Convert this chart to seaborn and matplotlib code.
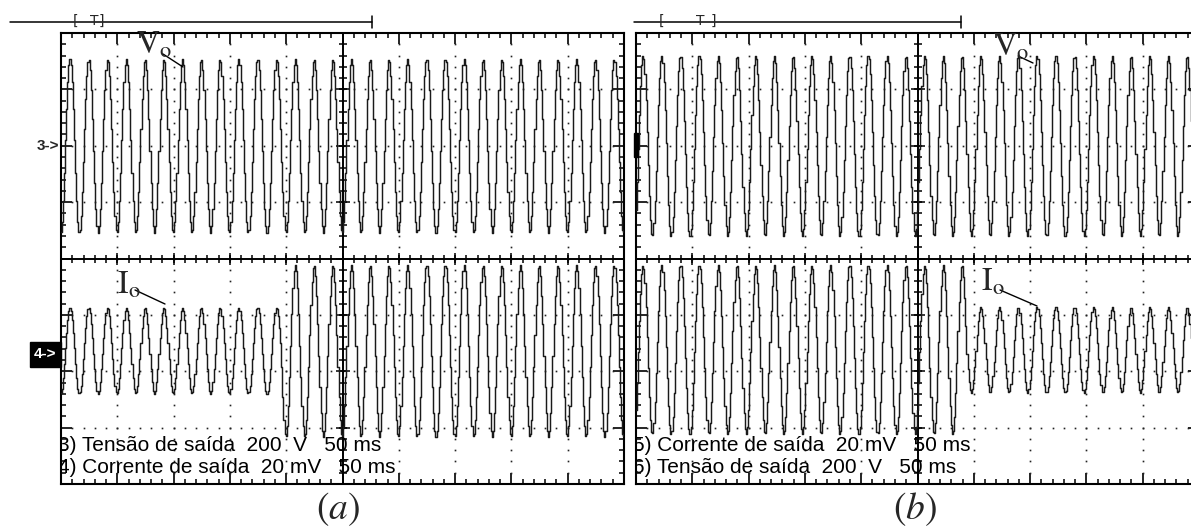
import numpy as np
import pandas as pd
import matplotlib
matplotlib.use("Agg")
import matplotlib.pyplot as plt
import seaborn as sns
from matplotlib.patches import Rectangle

sns.set_theme(style="white")
plt.rcParams['font.family'] = ['Liberation Sans', 'DejaVu Sans']

# ---------------- data (screen divisions: 10 horizontal x 8 vertical) ----------------
panel_names = ["(a)", "(b)"]
cycles_per_div = [3.0, 3.0]            # 60 Hz at 50 ms/div
first_peak_div = [0.16, 0.125]
vo_center_div = [6.0, 6.0]
vo_amp_div = [1.54, 1.60]
io_center_div = [2.36, 2.38]
io_amp_before_div = [0.76, 1.50]
io_amp_after_div = [1.52, 0.76]
io_step_div = [3.91, 5.875]
legend_lines = [["3) Tensão de saída  200  V   50 ms", "4) Corrente de saída  20 mV   50 ms"],
                ["5) Corrente de saída  20 mV   50 ms", "6) Tensão de saída  200  V   50 ms"]]
sample_step_div = 0.02

W, H = 1191, 532
fig = plt.figure(figsize=(W / 100, H / 100), dpi=100, facecolor="white")

panel_left_px = [61, 636]
TRACE = "#1a1a1a"

for i in range(2):
    ax = fig.add_axes([panel_left_px[i] / W, 48 / H, 563 / W, 451 / H])
    ax.set_facecolor("white")
    t = np.arange(0, 10 + 1e-9, sample_step_div)
    ph = 2 * np.pi * cycles_per_div[i] * (t - first_peak_div[i])
    vo = vo_center_div[i] + vo_amp_div[i] * np.cos(ph)
    amp = np.where(t < io_step_div[i], io_amp_before_div[i], io_amp_after_div[i])
    io = io_center_div[i] + amp * np.cos(ph)
    df = pd.DataFrame({"t": np.concatenate([t, t]),
                       "v": np.concatenate([vo, io]),
                       "ch": ["Vo"] * len(t) + ["Io"] * len(t)})
    sns.lineplot(data=df, x="t", y="v", units="ch", estimator=None, sort=False,
                 color=TRACE, lw=1.05, drawstyle="steps-mid", ax=ax, zorder=3)

    # dotted graticule
    minor = np.arange(0.2, 10, 0.2)
    minor_y = np.arange(0.2, 8, 0.2)
    for gx in [1, 2, 3, 4, 6, 7, 8, 9]:
        ax.plot(np.full_like(minor_y, gx), minor_y, ls="none", marker="s", ms=1.2,
                mew=0, color="#222222", zorder=2)
    for gy in [1, 2, 3, 5, 6, 7]:
        ax.plot(minor, np.full_like(minor, gy), ls="none", marker="s", ms=1.2,
                mew=0, color="#222222", zorder=2)
    # centre cross
    ax.axvline(5, color="black", lw=1.4, zorder=2)
    ax.axhline(4, color="black", lw=1.4, zorder=2)
    ax.plot(np.full_like(minor_y, 5), minor_y, ls="none", marker="_", ms=6, mew=1.1,
            color="black", zorder=2)
    ax.plot(np.full(7, 5), np.arange(1, 8), ls="none", marker="_", ms=10, mew=1.1,
            color="black", zorder=2)
    ax.plot(minor, np.full_like(minor, 4), ls="none", marker="|", ms=6, mew=1.1,
            color="black", zorder=2)
    ax.plot(np.arange(1, 10), np.full(9, 4), ls="none", marker="|", ms=9, mew=1.1,
            color="black", zorder=2)

    ax.set_xlim(0, 10)
    ax.set_ylim(0, 8)
    ax.set_xticks(range(11))
    ax.set_yticks(range(9))
    ax.set_xticks(np.arange(0, 10.01, 0.2), minor=True)
    ax.set_yticks(np.arange(0, 8.01, 0.2), minor=True)
    ax.tick_params(which="both", direction="in", top=True, right=True, bottom=True, left=True,
                   labelbottom=False, labelleft=False, color="black")
    ax.tick_params(which="major", length=8, width=1.2)
    ax.tick_params(which="minor", length=3.6, width=1.1)
    ax.set_xlabel("")
    ax.set_ylabel("")
    for s in ax.spines.values():
        s.set_color("black")
        s.set_linewidth(1.5)
        s.set_visible(True)

    for k, line in enumerate(legend_lines[i]):
        ax.text(-0.06, [0.69, 0.30][k], line, fontsize=15, va="center", ha="left",
                color="black", clip_on=True, zorder=4)

# ---------------- overlay annotations in pixel coordinates ----------------
ov = fig.add_axes([0, 0, 1, 1], zorder=10)
ov.set_xlim(0, W)
ov.set_ylim(H, 0)
ov.axis("off")
ov.patch.set_alpha(0)

# trigger / time bars
for (x0, x1, xb, xt, xe) in [(10, 372, 75, 94.5, 101), (634, 961, 662, 700, 713)]:
    ov.plot([x0, x1], [22, 22], color="black", lw=1.1)
    ov.plot([x1, x1], [16, 28], color="black", lw=1.1)
    ov.text(xb, 21, "[", fontsize=10, ha="center", va="center", family="DejaVu Sans")
    ov.text(xt, 21, "T", fontsize=10, ha="center", va="center", family="DejaVu Sans")
    ov.text(xe, 21, "]", fontsize=10, ha="center", va="center", family="DejaVu Sans")

# signal labels
for (xl, yl, lab, p0, p1) in [(136, 54, r"$\mathrm{V}_{\mathrm{o}}$", (163, 54), (183, 67)),
                              (993, 56, r"$\mathrm{V}_{\mathrm{o}}$", (1018, 56), (1033, 63)),
                              (117, 294, r"$\mathrm{I}_{\mathrm{o}}$", (135, 290), (165, 304)),
                              (981, 291, r"$\mathrm{I}_{\mathrm{o}}$", (1000, 290), (1037, 306))]:
    ov.text(xl, yl, lab, fontsize=23, math_fontfamily="stix", ha="left", va="baseline")
    ov.plot([p0[0], p1[0]], [p0[1], p1[1]], color="black", lw=1.0)

# channel markers
ov.text(59, 146, "3->", fontsize=11, fontweight="bold", ha="right", va="center")
ov.add_patch(Rectangle((30, 342), 31, 25, color="black"))
ov.text(45.5, 354.5, "4->", fontsize=11, fontweight="bold", ha="center", va="center", color="white")
ov.add_patch(Rectangle((634, 133), 4, 24, color="black"))

# panel captions
for xc, name in [(338, "(a)"), (915, "(b)")]:
    ov.text(xc, 509, "$" + name + "$", fontsize=27, math_fontfamily="stix",
            ha="center", va="center")

fig.savefig("out.png", dpi=100, facecolor="white")
